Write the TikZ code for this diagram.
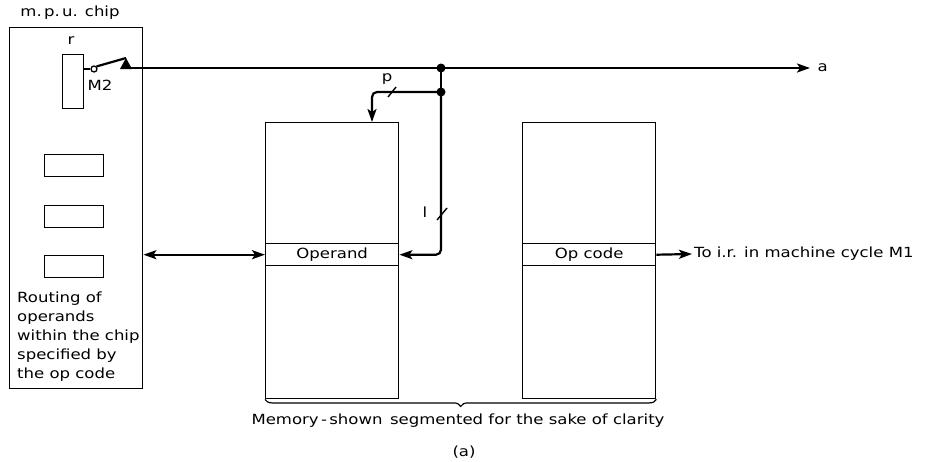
\documentclass[tikz,border=0pt]{standalone}
\usepackage{fontspec}
\setmainfont{DejaVu Sans}[FakeStretch=1.18]
\usetikzlibrary{arrows.meta,decorations.pathreplacing,calc}
\begin{document}
\begin{tikzpicture}[x=1pt,y=-1pt, font=\fontsize{14}{19}\selectfont,
  box/.style={draw, line width=1.4pt, inner sep=0pt, anchor=north west},
  wire/.style={line width=2.2pt},
  tip/.tip={Stealth[length=13pt,width=9pt,inset=3pt]},
  arr/.style={wire,-tip},
  jdot/.style={circle, fill, inner sep=0pt, minimum size=9pt}]
\useasboundingbox (0,0) rectangle (933,461);
% chip
\node[box, minimum width=133pt, minimum height=361pt] (chip) at (9,27) {};
\node (chiplbl) at (70,13) {m.\,p.\,u. chip};
\node[box, minimum width=21pt, minimum height=54pt] (reg) at (62,54) {};
\node (rlbl) at (71,41) {r};
\node (m2) at (100,85) {M2};
\node[box, minimum width=59pt, minimum height=22pt] (s1) at (44,154) {};
\node[box, minimum width=59pt, minimum height=22pt] (s2) at (44,205) {};
\node[box, minimum width=59pt, minimum height=22pt] (s3) at (44,255) {};
\node[anchor=north west, align=left, inner sep=0pt] (route) at (17,292)
  {Routing of\\operands\\within the chip\\specified by\\the op code};
% switch
\node[circle, draw, line width=1.3pt, fill=white, minimum size=6pt, inner sep=0pt] (swc) at (94,69) {};
\draw[line width=1.4pt] (reg.east |- swc) -- (swc.west);
\coordinate (pivot) at (126,68);
\draw[wire] (swc.north east) -- (126,58);
\fill (120,69) -- (126,58) -- (132,69) -- cycle;
\coordinate (aend) at (810,68);
\node[anchor=west] (alab) at (814,68) {a};
\draw[arr] (pivot) -- (aend);
% memory
\node[box, minimum width=133pt, minimum height=276pt] (mem1) at (265,122) {};
\node[box, minimum width=133pt, minimum height=22pt] (operand) at (265,243) {Operand};
\node[box, minimum width=133pt, minimum height=276pt] (mem2) at (522,122) {};
\node[box, minimum width=133pt, minimum height=22pt] (opcode) at (522,243) {Op code};
% junctions
\node[jdot] (j1) at (441,68) {};
\node[jdot] (j2) at (441,92) {};
\draw[wire] (j1.center) -- (j2.center);
\coordinate (pin) at ($(mem1.north west)+(107,0)$);
\draw[arr, rounded corners=5pt] (j2.center) -- (pin |- j2) -- (pin);
\draw[arr, rounded corners=5pt] (j2.center) -- (j2 |- operand.east) -- (operand.east);
% ticks and labels
\draw[line width=1.4pt] (388,97) -- (396,87);
\node (plbl) at (387,79) {p};
\draw[line width=1.4pt] (437,220) -- (447,208);
\node (llbl) at (425,212) {l};
% operand to chip
\draw[wire, tip-tip] (chip.east |- operand.west) -- (operand.west);
% op code to i.r.
\coordinate (irend) at (692,254);
\draw[arr] (opcode.east) -- (irend);
\node[anchor=west, inner sep=2pt] (irlbl) at (irend) {To i.r. in machine cycle M1};
% brace
\draw[decorate, decoration={brace, mirror, amplitude=7pt}, line width=1.2pt] (mem1.south west) -- (mem2.south east);
\node (memlbl) at (458,421) {Memory\,-\,shown\, segmented for the sake of clarity};
\node (alabel) at (464,452) {(a)};
\end{tikzpicture}
\end{document}
